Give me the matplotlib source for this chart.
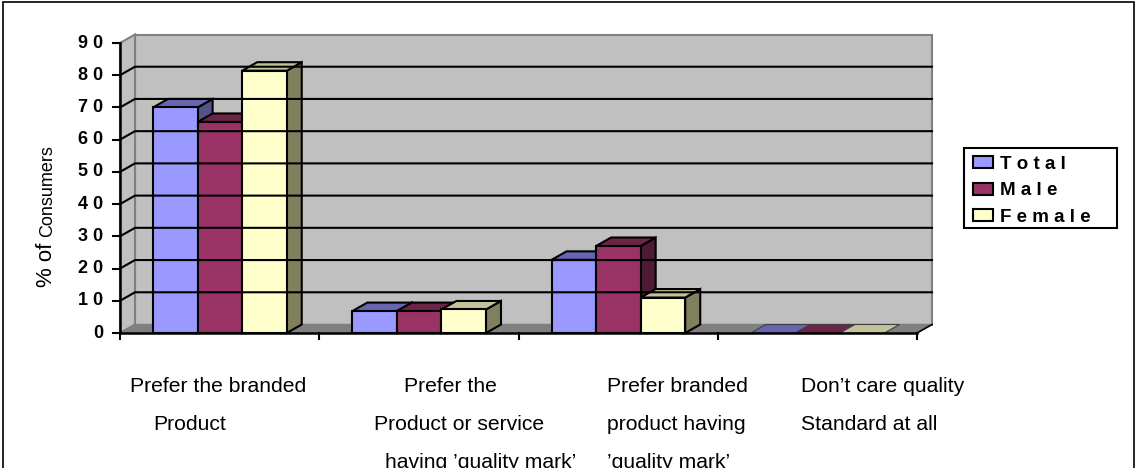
import matplotlib
matplotlib.use('Agg')
import matplotlib.pyplot as plt
from matplotlib.patches import Polygon, Patch, Rectangle

plt.rcParams['font.family'] = ['Liberation Sans', 'DejaVu Sans']

# values
series_names = ['T o t a l', 'M a l e', 'F e m a l e']
total = [70, 6.8, 22.7, 0]
male = [65.5, 6.8, 27, 0]
female = [81.4, 7.3, 11, 0]
y_ticks = [0, 10, 20, 30, 40, 50, 60, 70, 80, 90]
y_labels = ['0', '1 0', '2 0', '3 0', '4 0', '5 0', '6 0', '7 0', '8 0', '9 0']
# front, top, side colours
colors = [('#9999FF', '#6666B3', '#54548C'),
          ('#993366', '#6E2349', '#4F1A35'),
          ('#FFFFCC', '#C2C29B', '#80805F')]

W, H = 1136, 468
fig = plt.figure(figsize=(W / 100, H / 100), dpi=100)
fig.patch.set_facecolor('white')
fig.add_artist(Rectangle((2.5 / W, -0.1), (W - 5) / W, 1.1 - 2.5 / H, transform=fig.transFigure,
                         fill=False, ec='black', lw=1.2))

# axes are the front plane of the 3d box
x0, x1, y0, y1 = 120, 917, 333, 43
ax = fig.add_axes([x0 / W, 1 - y0 / H, (x1 - x0) / W, (y0 - y1) / H])
ax.set_xlim(0, 4)
ax.set_ylim(0, 90)
ax.axis('off')

dx = 15 * 4 / (x1 - x0)
dy = 8.5 * 90 / (y0 - y1)
bw = 0.2236
start = 0.166

# walls
ax.add_patch(Polygon([(dx, dy), (4 + dx, dy), (4 + dx, 90 + dy), (dx, 90 + dy)], fc='#C0C0C0', ec='#808080', lw=1.5, clip_on=False))
ax.add_patch(Polygon([(0, 0), (dx, dy), (dx, 90 + dy), (0, 90)], fc='#C0C0C0', ec='#808080', lw=1.5, clip_on=False))
ax.add_patch(Polygon([(0, 0), (4, 0), (4 + dx, dy), (dx, dy)], fc='#808080', ec='#808080', lw=1, clip_on=False))

for v in y_ticks[1:-1]:
    ax.plot([0, dx, 4 + dx], [v, v + dy, v + dy], color='black', lw=1.5, clip_on=False, solid_joinstyle='miter')
ax.plot([4, 4 + dx], [0, dy], color='black', lw=1.2, clip_on=False)

# axes lines and ticks
ax.plot([0, 0], [0, 90], color='black', lw=1.8, clip_on=False)
ax.plot([0, 4], [0, 0], color='black', lw=1.8, clip_on=False)
for v, lab in zip(y_ticks, y_labels):
    ax.plot([-0.035, 0], [v, v], color='black', lw=1.5, clip_on=False)
    ax.text(-0.085, v, lab, ha='right', va='center', fontsize=13, fontweight='bold')
for i in range(5):
    ax.plot([i, i], [0, -1.8], color='black', lw=1.5, clip_on=False)

# bars
for g in range(4):
    for s, vals in enumerate([total, male, female]):
        v = vals[g]
        left = g + start + s * bw
        right = left + bw
        front, top, side = colors[s]
        kw = dict(ec='black', lw=1.5, joinstyle='miter', clip_on=False)
        if v > 0:
            ax.add_patch(Polygon([(right, 0), (right + dx, dy), (right + dx, v + dy), (right, v)], fc=side, **kw))
            ax.add_patch(Polygon([(left, v), (right, v), (right + dx, v + dy), (left + dx, v + dy)], fc=top, **kw))
            ax.add_patch(Polygon([(left, 0), (right, 0), (right, v), (left, v)], fc=front, **kw))
        else:
            ax.add_patch(Polygon([(left, 0), (right, 0), (right + dx, dy), (left + dx, dy)], fc=top, ec='#404040', lw=0.8, clip_on=False))

# y title, two sizes like the original
fig.text(52 / W, 1 - 287 / H, '% of', rotation=90, rotation_mode='anchor', ha='left', va='baseline', fontsize=16)
fig.text(52 / W, 1 - 237 / H, 'Consumers', rotation=90, rotation_mode='anchor', ha='left', va='baseline', fontsize=13)

# category captions sit as loose text lines
captions = [(130, 387, 'Prefer the branded'), (153, 425, 'Product'),
            (404, 387, 'Prefer the'), (374, 425, 'Product or service'),
            (385, 463, 'having ’quality mark’'),
            (607, 387, 'Prefer branded'), (607, 425, 'product having'),
            (607, 463, '’quality mark’'),
            (801, 387, 'Don’t care quality'), (801, 425, 'Standard at all')]
for px, py, t in captions:
    fig.text(px / W, 1 - py / H, t, ha='left', va='center', fontsize=15.2)

# legend box is wider than its entries, so the frame is drawn separately
fig.add_artist(Rectangle((964 / W, 1 - 228 / H), 153 / W, 80 / H, transform=fig.transFigure,
                         fc='white', ec='black', lw=1.5))
handles = [Patch(fc=c[0], ec='black', lw=1.5) for c in colors]
fig.legend(handles, series_names, loc='upper left', bbox_to_anchor=(973 / W, 1 - 156 / H),
           borderaxespad=0, frameon=False, borderpad=0,
           prop={'size': 13.5, 'weight': 'bold'}, handlelength=1.06, handleheight=0.6,
           handletextpad=0.38, labelspacing=0.5)

fig.savefig('out.png', dpi=100)
